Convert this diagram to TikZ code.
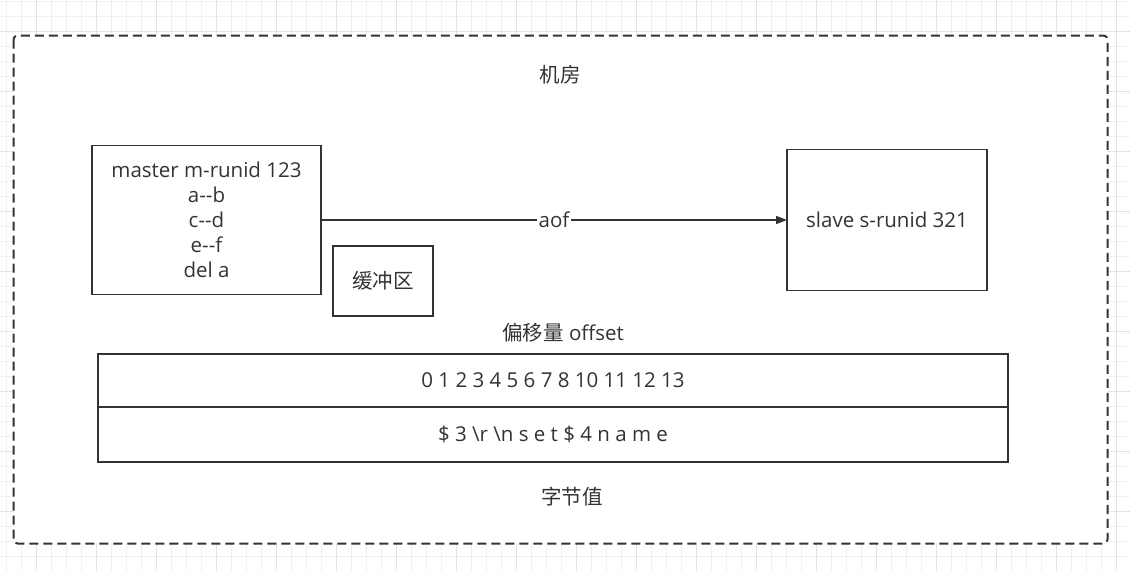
\documentclass[tikz,border=0pt]{standalone}
\usepackage{fontspec}
\setmainfont{Open Sans}
\newfontfamily\cjk{Noto Sans CJK SC}
\usetikzlibrary{arrows.meta}
\definecolor{ink}{HTML}{333333}
\definecolor{gridminor}{HTML}{F0F0F0}
\definecolor{gridmajor}{HTML}{E3E3E3}

\begin{document}
\begin{tikzpicture}[x=1pt,y=-1pt,
  every node/.style={text=ink, font=\fontsize{20.5}{25}\selectfont},
  box/.style={draw=ink, line width=1.6pt, inner sep=0pt, outer sep=0pt, align=center, fill=white},
  caption/.style={inner sep=0pt},
  link/.style={draw=ink, line width=1.5pt, -{Triangle[length=11pt,width=8pt]}}]
\useasboundingbox (0,0) rectangle (1130,571);
\fill[white] (0,0) rectangle (1130,571);

% background grid
\foreach \i in {0,...,74} \draw[gridminor, line width=1pt] (6.7+15*\i,0) -- (6.7+15*\i,571);
\foreach \j in {0,...,37} \draw[gridminor, line width=1pt] (0,1.7+15*\j) -- (1130,1.7+15*\j);
\foreach \i in {0,...,18} \draw[gridmajor, line width=1pt] (36.7+60*\i,0) -- (36.7+60*\i,571);
\foreach \j in {0,...,8} \draw[gridmajor, line width=1pt] (0,31.7+60*\j) -- (1130,31.7+60*\j);

% machine room frame
\draw[ink, fill=white, line width=2pt, dash pattern=on 9pt off 5pt, rounded corners=4pt]
  (13.5,35.5) rectangle (1107.5,543.5);
\node[caption] (room) at (560,75) {\cjk 机房};

% master, buffer and slave
\node[box, minimum width=229pt, minimum height=149pt] (master) at (206.5,220)
  {master m-runid 123\\a-{}-b\\c-{}-d\\e-{}-f\\del a};
\node[box, minimum width=100pt, minimum height=70pt] (buffer) at (383,281) {\cjk 缓冲区};
\node[box, minimum width=200pt, minimum height=141pt] (slave) at (887,220) {slave s-runid 321};
\draw[link] (master.east) -- node[fill=white, inner sep=1.5pt] (aof) {aof} (slave.west);

% offset / byte table
\node[caption] (offsetlabel) at (563,333) {{\cjk 偏移量} offset};
\node[box, minimum width=910pt, minimum height=53pt] (offsets) at (553,380.5)
  {0 1 2 3 4 5 6 7 8 10 11 12 13};
\node[box, minimum width=910pt, minimum height=55pt, anchor=north] (bytes) at (offsets.south)
  {\$ 3 \textbackslash r \textbackslash n s e t \$ 4 n a m e};
\node[caption] (bytelabel) at (572,497) {\cjk 字节值};
\end{tikzpicture}
\end{document}
